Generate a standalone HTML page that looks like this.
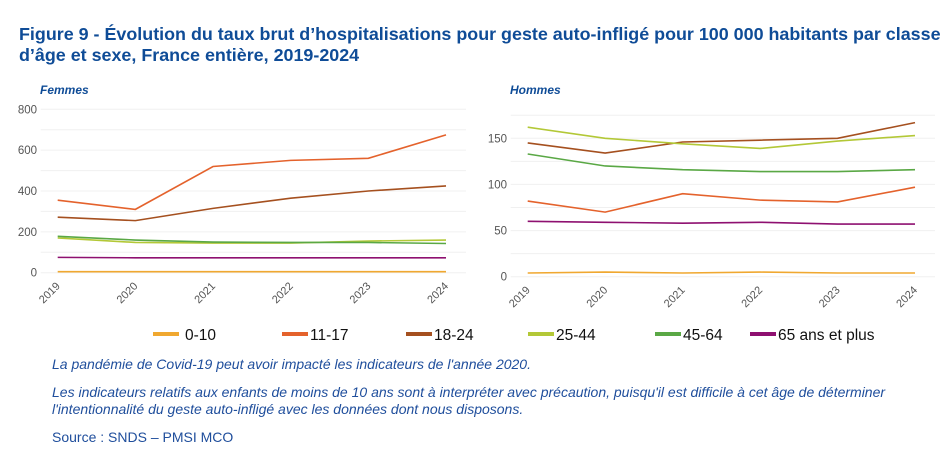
<!DOCTYPE html>
<html><head><meta charset="utf-8"><style>
body{margin:0;background:#fff;width:948px;height:451px;overflow:hidden;font-family:"Liberation Sans",Arial,sans-serif}
.t{position:absolute;left:19px;top:24px;color:#0f4c97;font-weight:bold;font-size:17.9px;line-height:21px;width:928px}
.n{position:absolute;left:52px;color:#1f4e9c;font-style:italic;font-size:14px;line-height:17px}
</style></head><body>
<div class="t">Figure 9 - Évolution du taux brut d’hospitalisations pour geste auto-infligé pour 100 000 habitants par classe d’âge et sexe, France entière, 2019-2024</div>
<svg id="c" width="948" height="451" style="position:absolute;left:0;top:0"></svg>
<div class="n" style="top:356px">La pandémie de Covid-19 peut avoir impacté les indicateurs de l'année 2020.</div>
<div class="n" style="top:384px">Les indicateurs relatifs aux enfants de moins de 10 ans sont à interpréter avec précaution, puisqu'il est difficile à cet âge de déterminer<br>l'intentionnalité du geste auto-infligé avec les données dont nous disposons.</div>
<div class="n" style="top:429px;font-style:normal">Source : SNDS – PMSI MCO</div>
<script>
const years=["2019","2020","2021","2022","2023","2024"];
const groups=["0-10","11-17","18-24","25-44","45-64","65 ans et plus"];
const colors=["#f0a830","#e4622c","#a5501f","#b3c837","#5aa845","#8e1070"];
const femmes0_10=[5,5,5,5,5,5];
const femmes11_17=[355,310,520,550,560,675];
const femmes18_24=[272,255,315,365,400,425];
const femmes25_44=[170,148,145,145,155,160];
const femmes45_64=[178,160,150,148,148,143];
const femmes65=[75,73,73,73,73,73];
const hommes0_10=[4,5,4,5,4,4];
const hommes11_17=[82,70,90,83,81,97];
const hommes18_24=[145,134,146,148,150,167];
const hommes25_44=[162,150,144,139,147,153];
const hommes45_64=[133,120,116,114,114,116];
const hommes65=[60,59,58,59,57,57];
const femmesTicks=[0,200,400,600,800];
const hommesTicks=[0,50,100,150];
const svg=document.getElementById('c');
const NS='http://www.w3.org/2000/svg';
function mk(t,a,p){const e=document.createElementNS(NS,t);for(const k in a)e.setAttribute(k,a[k]);(p||svg).appendChild(e);return e;}
function panel(name,title,x0,x1,y0,yTop,vmax,ticks,grid,series,labX){
  const g=mk('g',{});
  
  
  const xs=i=>x0+(x1-x0)*i/(years.length-1);
  const ys=v=>y0-(y0-yTop)*v/vmax;
  const tt=mk('text',{x:labX+30,y:94,fill:'#0f4c97','font-size':12,'font-weight':'bold','font-style':'italic'},g);
  tt.textContent=title;
  
  
  grid.forEach(v=>{const l=mk('line',{x1:x0-17,x2:x1+20,y1:ys(v),y2:ys(v),stroke:'#f0f0f0','stroke-width':1},g);
    
    });
  ticks.forEach(v=>{const t=mk('text',{x:labX+27,y:ys(v)+4,'text-anchor':'end',fill:'#555','font-size':11.5},g);t.textContent=v;
    
    });
  years.forEach((y,i)=>{const t=mk('text',{x:xs(i)+3,y:y0+14,'text-anchor':'end',fill:'#555','font-size':11,transform:`rotate(-45 ${xs(i)+3} ${y0+14})`},g);t.textContent=y;
    
    });
  series.forEach((s,k)=>{const p=mk('polyline',{points:s.map((v,i)=>xs(i)+','+ys(v)).join(' '),fill:'none',stroke:colors[k],'stroke-width':1.6},g);
    
    });
}
panel('femmes','Femmes',57.7,446,272.7,109.3,800,femmesTicks,[0,100,200,300,400,500,600,700,800],[femmes0_10,femmes11_17,femmes18_24,femmes25_44,femmes45_64,femmes65],10);
panel('hommes','Hommes',527.7,915,276.7,138.3,150,hommesTicks,[0,25,50,75,100,125,150,175],[hommes0_10,hommes11_17,hommes18_24,hommes25_44,hommes45_64,hommes65],480);
const legX=[153,282,406,528,655,750];
groups.forEach((gname,k)=>{
  const r=mk('rect',{x:legX[k],y:332,width:26,height:4,fill:colors[k]});
  
  
  const t=mk('text',{x:legX[k]+(k===0?32:28),y:340,fill:'#111','font-size':15.5});
  t.textContent=gname;
  
  
});
</script>
</body></html>
